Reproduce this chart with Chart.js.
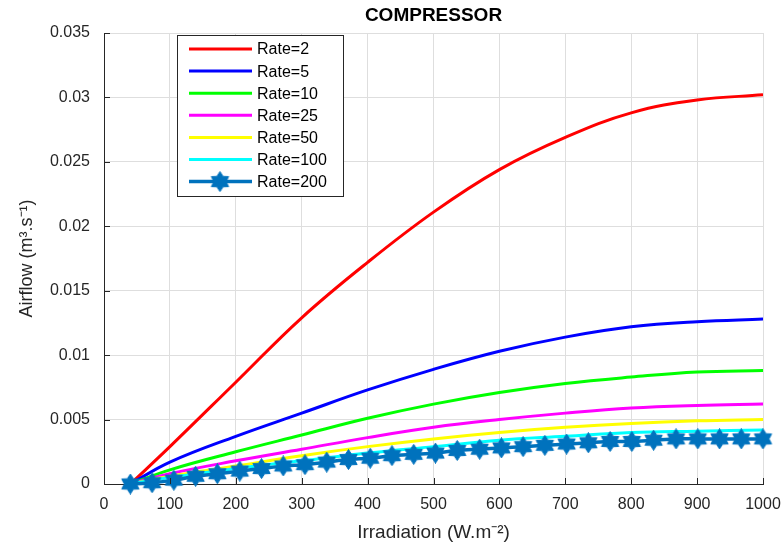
<!DOCTYPE html>
<html>
<head>
<meta charset="utf-8">
<script src="https://cdn.jsdelivr.net/npm/chart.js@4.4.1/dist/chart.umd.min.js"></script>
<style>
  html, body { margin: 0; padding: 0; background: #fff; }
  #wrap { width: 782px; height: 546px; position: relative; }
</style>
</head>
<body>
<div id="wrap"><canvas id="myChart"></canvas></div>
<script>
// Irradiation sample points for the plain curves
const irradiation = [40, 100, 200, 300, 400, 500, 600, 700, 800, 900, 1000];
// Airflow values (m3/s)
const rate2   = [0, 0.0029, 0.0079, 0.0129, 0.0172, 0.0211, 0.0244, 0.0269, 0.0288, 0.0298, 0.0302];
const rate5   = [0, 0.0017, 0.0037, 0.0055, 0.0073, 0.0089, 0.0103, 0.0114, 0.0122, 0.0126, 0.0128];
const rate10  = [0, 0.0011, 0.0025, 0.0038, 0.0051, 0.0062, 0.0071, 0.0078, 0.0083, 0.0087, 0.0088];
const rate25  = [0, 0.0008, 0.0018, 0.0027, 0.0036, 0.0044, 0.0050, 0.0055, 0.0059, 0.0061, 0.0062];
const rate50  = [0, 0.0006, 0.0014, 0.0022, 0.0029, 0.0035, 0.0040, 0.0044, 0.0047, 0.0049, 0.0050];
const rate100 = [0, 0.0005, 0.0012, 0.0018, 0.0024, 0.0029, 0.0034, 0.0037, 0.0040, 0.0041, 0.0042];

// Rate=200 is drawn with a marker at every sample
const irradiation200 = [40, 73, 106, 139, 172, 206, 239, 272, 305, 338, 371, 404, 437, 470, 503,
  536, 570, 603, 636, 669, 702, 735, 768, 801, 834, 868, 901, 934, 967, 1000];
const rate200 = [0, 0.0001, 0.0003, 0.0006, 0.0008, 0.0010, 0.0012, 0.0014, 0.0015, 0.0017,
  0.0019, 0.0020, 0.0022, 0.0023, 0.0024, 0.0026, 0.0027, 0.0028, 0.0029, 0.0030,
  0.0031, 0.0032, 0.0033, 0.0033, 0.0034, 0.0035, 0.0035, 0.0035, 0.0035, 0.0035];

const seriesLabels = ['Rate=2', 'Rate=5', 'Rate=10', 'Rate=25', 'Rate=50', 'Rate=100', 'Rate=200'];
const seriesColors = ['#ff0000', '#0000ff', '#00ff00', '#ff00ff', '#ffff00', '#00ffff', '#0072bd'];
const plainSeries = [rate2, rate5, rate10, rate25, rate50, rate100];

const xTicks = [0, 100, 200, 300, 400, 500, 600, 700, 800, 900, 1000];
const yTicks = [0, 0.005, 0.01, 0.015, 0.02, 0.025, 0.03, 0.035];

const FONT = "'Liberation Sans', Arial, sans-serif";
const INK = '#262626';

// hexagram marker (MATLAB 'h')
function hexagram(size, color) {
  const c = document.createElement('canvas');
  c.width = size; c.height = size;
  const g = c.getContext('2d');
  const R = size / 2 - 0.5, r = R / Math.sqrt(3) * 1.05, cx = size / 2, cy = size / 2;
  g.beginPath();
  for (let i = 0; i < 12; i++) {
    const a = -Math.PI / 2 + i * Math.PI / 6;
    const rad = i % 2 === 0 ? R : r;
    const px = cx + rad * Math.cos(a), py = cy + rad * Math.sin(a);
    if (i === 0) g.moveTo(px, py); else g.lineTo(px, py);
  }
  g.closePath();
  g.fillStyle = color; g.fill();
  g.strokeStyle = color; g.lineWidth = 1; g.stroke();
  return c;
}
const star = hexagram(21, seriesColors[6]);

const datasets = plainSeries.map((vals, i) => ({
  label: seriesLabels[i],
  data: irradiation.map((x, j) => ({ x: x, y: vals[j] })),
  borderColor: seriesColors[i],
  borderWidth: 3,
  pointRadius: 0,
  tension: 0.4,
  fill: false,
  order: 7 - i
}));
datasets.push({
  label: seriesLabels[6],
  data: irradiation200.map((x, j) => ({ x: x, y: rate200[j] })),
  borderColor: seriesColors[6],
  backgroundColor: seriesColors[6],
  borderWidth: 3.5,
  pointStyle: star,
  pointRadius: 10,
  tension: 0.3,
  fill: false,
  clip: false,
  order: 0
});

// title, inward ticks and the boxed legend, MATLAB style
const matlabBits = {
  id: 'matlabBits',
  afterDraw(chart) {
    const ctx = chart.ctx;
    const a = chart.chartArea;
    const xs = chart.scales.x, ys = chart.scales.y;
    ctx.save();
    // inward ticks
    ctx.strokeStyle = INK; ctx.lineWidth = 1;
    ctx.beginPath();
    xTicks.forEach(v => { const px = Math.round(xs.getPixelForValue(v)) + 0.5; ctx.moveTo(px, a.bottom); ctx.lineTo(px, a.bottom - 6); });
    yTicks.forEach(v => { const py = Math.round(ys.getPixelForValue(v)) + 0.5; ctx.moveTo(a.left, py); ctx.lineTo(a.left + 6, py); });
    ctx.stroke();
    // title
    ctx.fillStyle = '#000';
    ctx.font = 'bold 19px ' + FONT;
    ctx.textAlign = 'center'; ctx.textBaseline = 'middle';
    ctx.fillText('COMPRESSOR', (a.left + a.right) / 2, 16);
    // legend
    const bx = 177.5, by = 35.5, bw = 166, bh = 161;
    ctx.fillStyle = '#fff'; ctx.fillRect(bx, by, bw, bh);
    ctx.strokeStyle = INK; ctx.lineWidth = 1; ctx.strokeRect(bx, by, bw, bh);
    ctx.font = '16px ' + FONT; ctx.textAlign = 'left';
    seriesLabels.forEach((lab, i) => {
      const y = 49 + i * 22.1;
      ctx.strokeStyle = seriesColors[i];
      ctx.lineWidth = i === 6 ? 3.5 : 3;
      ctx.beginPath(); ctx.moveTo(189, y); ctx.lineTo(252, y); ctx.stroke();
      if (i === 6) ctx.drawImage(star, 220 - 10.5, y - 10.5);
      ctx.fillStyle = '#000';
      ctx.fillText(lab, 257, y + 1);
    });
    ctx.restore();
  }
};

const ctx = document.getElementById('myChart').getContext('2d');
new Chart(ctx, {
  type: 'line',
  data: { datasets },
  options: {
    responsive: true,
    maintainAspectRatio: false,
    animation: false,
    layout: { padding: { top: 33, right: 19, left: 0, bottom: 0 } },
    plugins: { legend: { display: false }, tooltip: { enabled: false } },
    scales: {
      x: {
        type: 'linear', min: 0, max: 1000,
        afterFit: s => { s.height = 62; s.paddingLeft = 0; s.paddingRight = 0; },
        afterBuildTicks: s => { s.ticks = xTicks.map(v => ({ value: v })); },
        grid: { color: '#dedede', drawTicks: false },
        border: { display: true, color: INK, width: 1 },
        ticks: { color: INK, padding: 11, font: { family: FONT, size: 16 }, maxRotation: 0, callback: v => String(v) },
        title: { display: true, text: 'Irradiation (W.m⁻²)', color: INK, padding: { top: 0, bottom: 2 }, font: { family: FONT, size: 19 } }
      },
      y: {
        type: 'linear', min: 0, max: 0.035,
        afterFit: s => { s.width = 104; s.paddingTop = 0; s.paddingBottom = 0; },
        afterBuildTicks: s => { s.ticks = yTicks.map(v => ({ value: v })); },
        grid: { color: '#dedede', drawTicks: false },
        border: { display: true, color: INK, width: 1 },
        ticks: {
          color: INK, padding: 14, font: { family: FONT, size: 16 },
          callback: v => String(Number(v.toFixed(3)))
        },
        title: { display: true, text: 'Airflow (m³.s⁻¹)', color: INK, padding: { top: 16, bottom: 0 }, font: { family: FONT, size: 18 } }
      }
    }
  },
  plugins: [matlabBits]
});
</script>
</body>
</html>
